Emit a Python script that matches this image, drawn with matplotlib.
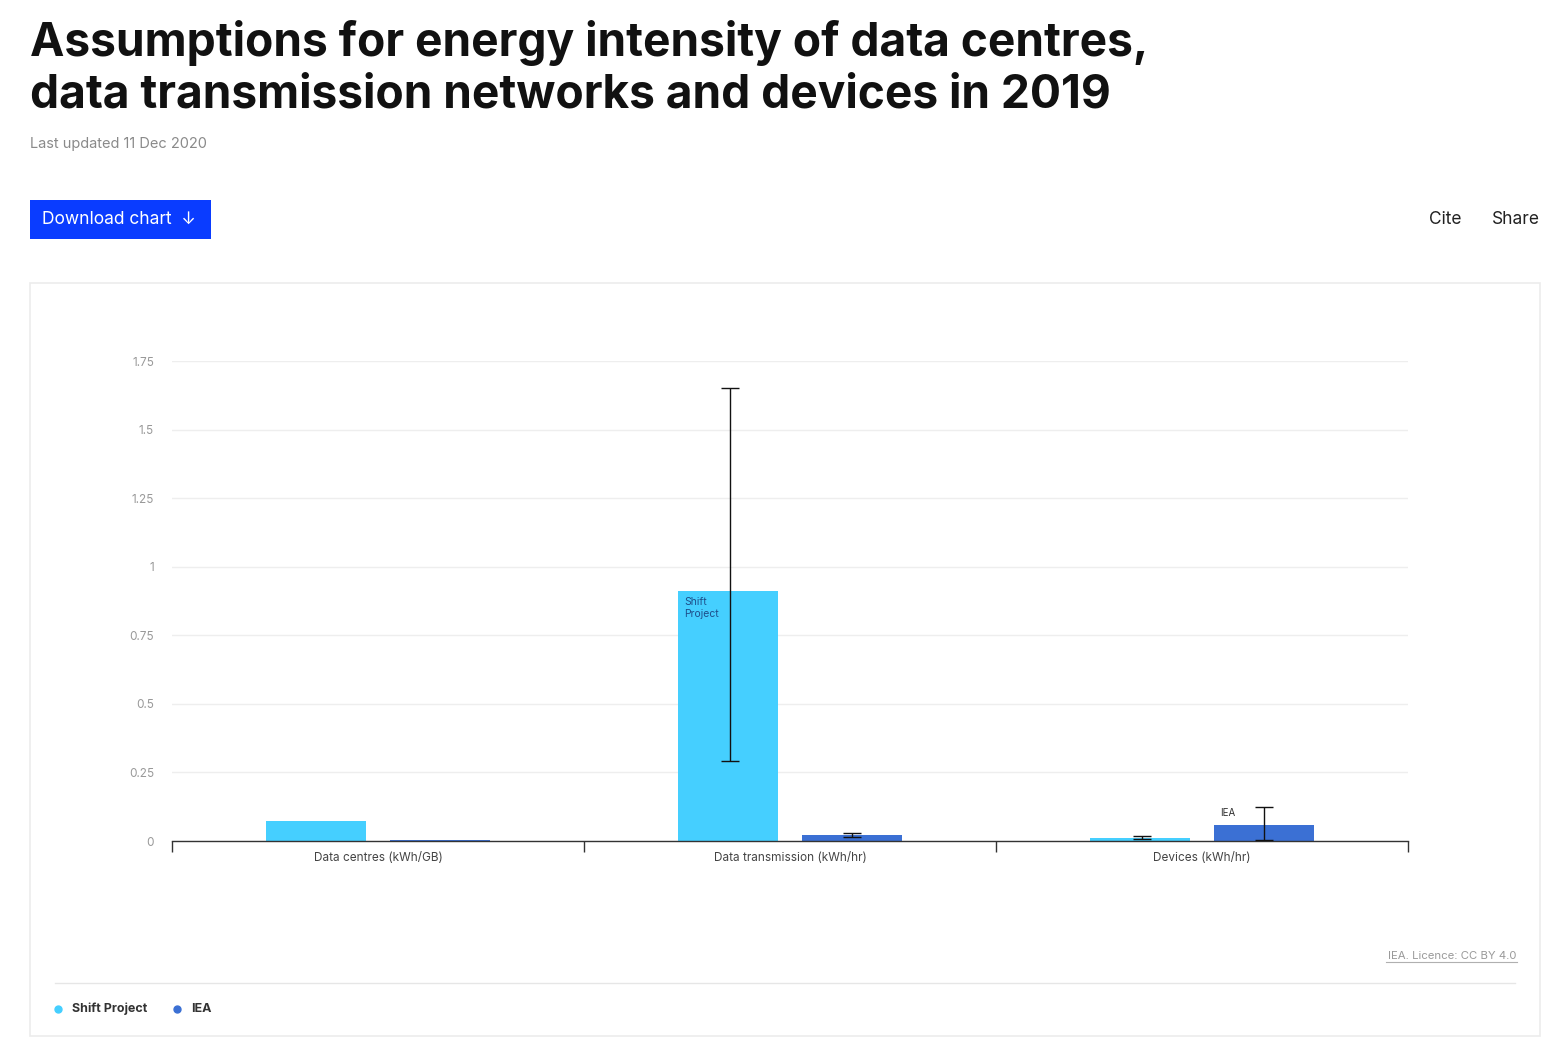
import numpy as np
import matplotlib.pyplot as plt
from matplotlib.patches import Rectangle

categories = ["Data centres (kWh/GB)", "Data transmission (kWh/hr)", "Devices (kWh/hr)"]
shift_values = [0.072, 0.91, 0.011]
shift_low = [None, 0.29, 0.006]
shift_high = [None, 1.65, 0.020]
iea_values = [0.004, 0.022, 0.058]
iea_low = [None, 0.016, 0.002]
iea_high = [None, 0.028, 0.124]
y_ticks = [0, 0.25, 0.5, 0.75, 1, 1.25, 1.5, 1.75]
y_tick_labels = ["0", "0.25", "0.5", "0.75", "1", "1.25", "1.5", "1.75"]

W, H = 1568, 1062
fig = plt.figure(figsize=(W / 100, H / 100), dpi=100)
plt.rcParams["font.family"] = ["Inter", "DejaVu Sans"]


def px(x, y):
    return x / W, 1 - y / H


# header
fig.text(*px(30, 56), "Assumptions for energy intensity of data centres,",
         fontsize=33.2, fontweight="bold", color="#111111", va="baseline")
fig.text(*px(30, 107), "data transmission networks and devices in 2019",
         fontsize=33.2, fontweight="bold", color="#111111", va="baseline")
fig.text(*px(30, 144), "Last updated 11 Dec 2020", fontsize=10.5,
         color="#8a8a8a", va="center")

fig.patches.append(Rectangle(px(30, 239), 181 / W, 39 / H, transform=fig.transFigure,
                             facecolor="#0a3cff", edgecolor="none"))
fig.text(*px(42, 219), "Download chart  \u2193", fontsize=12.5, color="white", va="center")
fig.text(*px(1462, 219), "Cite", fontsize=12.5, color="#222222", va="center", ha="right")
fig.text(*px(1540, 219), "Share", fontsize=12.5, color="#222222", va="center", ha="right")

# card
fig.patches.append(Rectangle(px(30, 1036), 1510 / W, 753 / H, transform=fig.transFigure,
                             facecolor="white", edgecolor="#ececec", linewidth=1.2,
                             zorder=-5))
fig.lines.append(plt.Line2D([55 / W, 1515 / W], [1 - 983 / H] * 2,
                            transform=fig.transFigure, color="#e6e6e6", linewidth=1))
fig.text(*px(1517, 956), "IEA. Licence: CC BY 4.0", fontsize=8.2, color="#9a9a9a",
         ha="right", va="center")
fig.lines.append(plt.Line2D([1386 / W, 1517 / W], [1 - 962 / H] * 2,
                            transform=fig.transFigure, color="#b0b0b0", linewidth=0.8))

# legend
shift_color = "#45cfff"
iea_color = "#3b70d4"
for xd, col, lab in [(58, shift_color, "Shift Project"), (177, iea_color, "IEA")]:
    fig.lines.append(plt.Line2D([xd / W], [1 - 1009 / H], transform=fig.transFigure,
                                marker="o", markersize=5, color=col, linestyle="none"))
    fig.text(*px(xd + 14, 1009), lab, fontsize=9, fontweight="bold",
             color="#333333", va="center")

# chart
ax = fig.add_axes([172 / W, 1 - 841 / H, 1236 / W, 480 / H])
ax.patch.set_alpha(0)
x = np.arange(len(categories))
width = 0.243
off = 0.15

ax.bar(x - off, shift_values, width, color=shift_color, zorder=2)
ax.bar(x + off, iea_values, width, color=iea_color, zorder=2)

for i in range(len(categories)):
    if shift_low[i] is not None:
        ax.errorbar(x[i] - off + 0.005, shift_values[i],
                    yerr=[[shift_values[i] - shift_low[i]], [shift_high[i] - shift_values[i]]],
                    fmt="none", ecolor="#111111", elinewidth=1, capsize=6.5, capthick=1, zorder=3)
    if iea_low[i] is not None:
        ax.errorbar(x[i] + off, iea_values[i],
                    yerr=[[iea_values[i] - iea_low[i]], [iea_high[i] - iea_values[i]]],
                    fmt="none", ecolor="#111111", elinewidth=1, capsize=6.5, capthick=1, zorder=3)

ax.text(x[1] - off - width / 2 + 0.015, shift_values[1] - 0.022, "Shift\nProject",
        fontsize=7.5, color="#1e4f8a", va="top", ha="left", linespacing=1.25)
ax.text(x[2] + off - width / 2 + 0.015, iea_values[2] + 0.025, "IEA",
        fontsize=7, color="#333333", va="bottom", ha="left")

ax.set_xlim(-0.5, 2.5)
ax.set_ylim(0, 1.75)
ax.set_yticks(y_ticks)
ax.set_yticklabels(y_tick_labels)
ax.set_xticks(x)
ax.set_xticklabels(categories)
ax.set_xticks([-0.5, 0.5, 1.5, 2.5], minor=True)
ax.tick_params(axis="x", which="major", length=0, pad=8, labelsize=8.5, labelcolor="#444444")
ax.tick_params(axis="x", which="minor", length=8, width=1, color="#333333", direction="out")
ax.tick_params(axis="y", length=0, pad=13, labelsize=8.5, labelcolor="#999999")

ax.set_axisbelow(True)
ax.yaxis.grid(True, color="#eeeeee", linewidth=1)
for s in ["top", "right", "left"]:
    ax.spines[s].set_visible(False)
ax.spines["bottom"].set_color("#333333")
ax.spines["bottom"].set_linewidth(1)

fig.savefig("out.png", dpi=100)
